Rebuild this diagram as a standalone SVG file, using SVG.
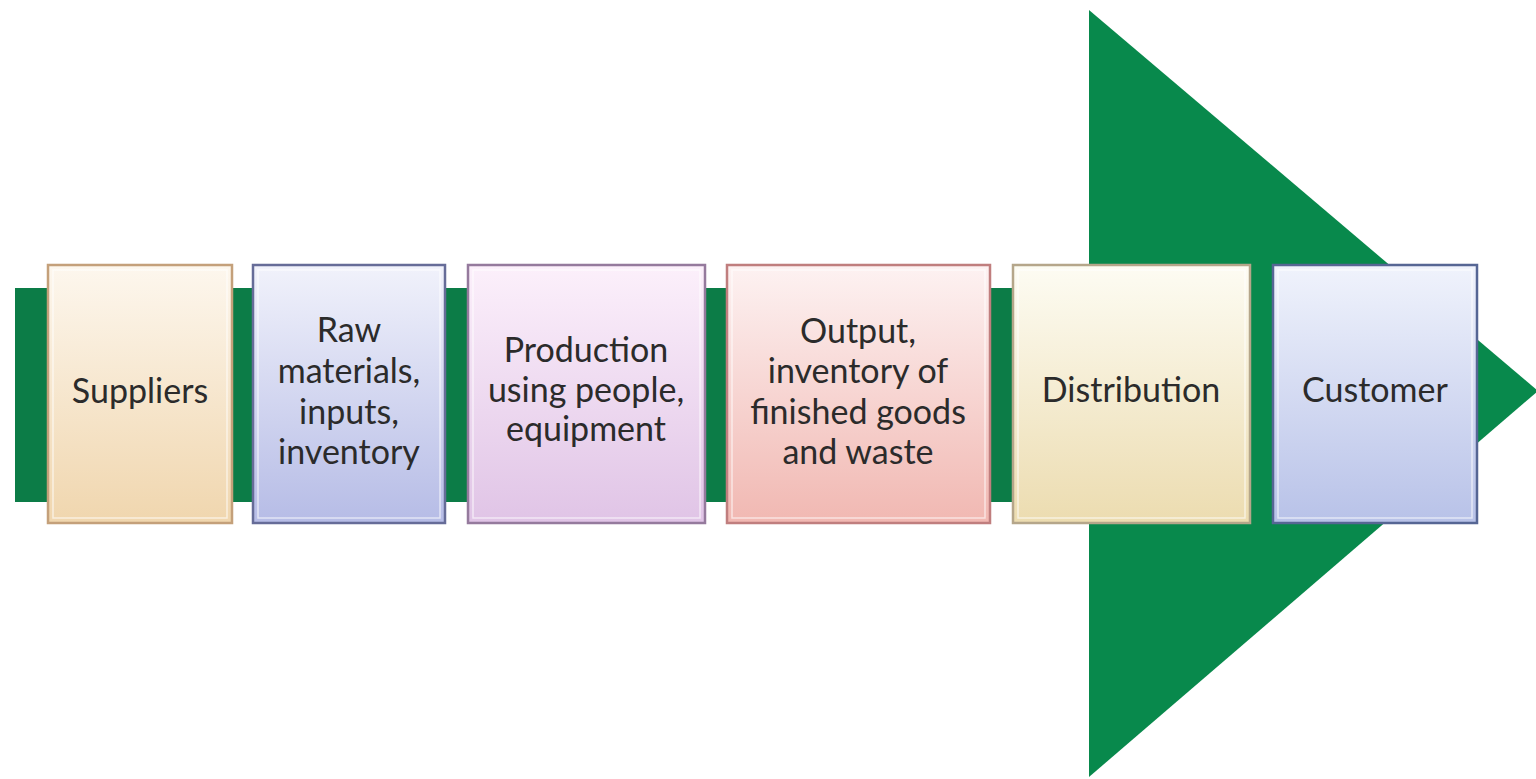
<svg xmlns="http://www.w3.org/2000/svg" width="1536" height="779" viewBox="0 0 1536 779">
<defs>
<linearGradient id="g1" x1="0" y1="0" x2="0" y2="1"><stop offset="0" stop-color="#fdf7ee"/><stop offset="1" stop-color="#f0d6ae"/></linearGradient>
<linearGradient id="g2" x1="0" y1="0" x2="0" y2="1"><stop offset="0" stop-color="#f1f2fb"/><stop offset="1" stop-color="#b6bce6"/></linearGradient>
<linearGradient id="g3" x1="0" y1="0" x2="0" y2="1"><stop offset="0" stop-color="#fcf0fb"/><stop offset="1" stop-color="#e0c4e6"/></linearGradient>
<linearGradient id="g4" x1="0" y1="0" x2="0" y2="1"><stop offset="0" stop-color="#fdf2f2"/><stop offset="1" stop-color="#f1b8b2"/></linearGradient>
<linearGradient id="g5" x1="0" y1="0" x2="0" y2="1"><stop offset="0" stop-color="#fdfcf3"/><stop offset="1" stop-color="#ecdcb0"/></linearGradient>
<linearGradient id="g6" x1="0" y1="0" x2="0" y2="1"><stop offset="0" stop-color="#f0f3fc"/><stop offset="1" stop-color="#b8c2e8"/></linearGradient>
</defs>
<style>
.box{stroke-width:2.5}
.in{fill:none;stroke:#ffffff;stroke-opacity:0.6;stroke-width:1.5}
text{font-family:Lato,"Liberation Sans",sans-serif;font-size:34px;fill:#2b2b2b;text-anchor:middle}
</style>
<rect width="1536" height="779" fill="#ffffff"/>
<g id="arrow">
<rect x="15" y="288" width="1080" height="214" fill="#0c7c47"/>
<polygon points="1089,10 1538,391 1089,777" fill="#08894c"/>
</g>
<g id="connectors"></g>
<g id="n1">
<rect class="box" x="48" y="265" width="184" height="258" fill="url(#g1)" stroke="#c4a07a"/>
<rect class="in" x="53" y="270" width="174" height="248"/>
<text x="140" y="403">Suppliers</text>
</g>
<g id="n2">
<rect class="box" x="253" y="265" width="192" height="258" fill="url(#g2)" stroke="#666c98"/>
<rect class="in" x="258" y="270" width="182" height="248"/>
<text x="349" y="342">Raw</text>
<text x="349" y="383">materials,</text>
<text x="349" y="424">inputs,</text>
<text x="349" y="464">inventory</text>
</g>
<g id="n3">
<rect class="box" x="468" y="265" width="237" height="258" fill="url(#g3)" stroke="#957a9d"/>
<rect class="in" x="473" y="270" width="227" height="248"/>
<text x="586" y="362">Production</text>
<text x="586" y="402">using people,</text>
<text x="586" y="441">equipment</text>
</g>
<g id="n4">
<rect class="box" x="727" y="265" width="263" height="258" fill="url(#g4)" stroke="#c07e7e"/>
<rect class="in" x="732" y="270" width="253" height="248"/>
<text x="858" y="343">Output,</text>
<text x="858" y="383">inventory of</text>
<text x="858" y="424">finished goods</text>
<text x="858" y="464">and waste</text>
</g>
<g id="n5">
<rect class="box" x="1013" y="265" width="237" height="258" fill="url(#g5)" stroke="#b5a68a"/>
<rect class="in" x="1018" y="270" width="227" height="248"/>
<text x="1131" y="402">Distribution</text>
</g>
<g id="n6">
<rect class="box" x="1273" y="265" width="204" height="258" fill="url(#g6)" stroke="#566694"/>
<rect class="in" x="1278" y="270" width="194" height="248"/>
<text x="1375" y="402">Customer</text>
</g>
</svg>
